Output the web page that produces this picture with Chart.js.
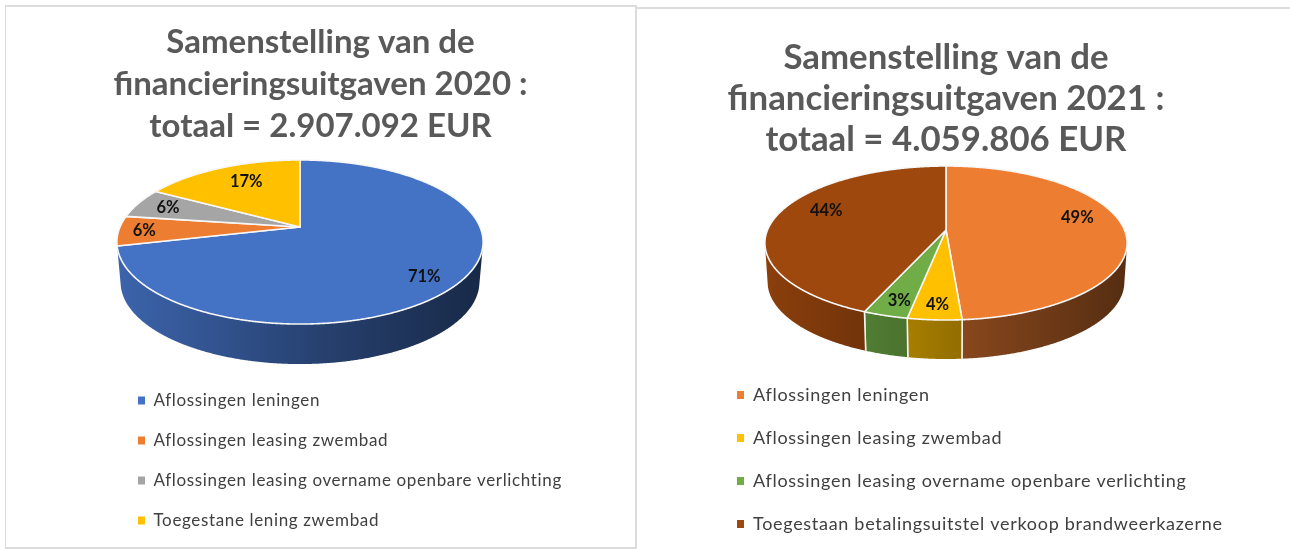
<!DOCTYPE html>
<html>
<head>
<meta charset="utf-8">
<title>Samenstelling van de financieringsuitgaven</title>
<script src="https://cdn.jsdelivr.net/npm/chart.js@4"></script>
<style>
  html, body { margin: 0; background: #fff; overflow: hidden; }
  body { width: 1290px; height: 550px; position: relative; }
  .frame { position: absolute; box-sizing: border-box; border: 0 solid #dcdcdc; }
  canvas { position: absolute; filter: blur(0.6px); }
</style>
</head>
<body>
<div class="frame" style="left:5px;top:5px;width:632px;height:544px;border-width:2px 2px 2px 1px"></div>
<div class="frame" style="left:636px;top:7px;width:654px;height:543px;border-width:2px 0 0 0"></div>
<canvas id="chart2020" style="left:5px;top:5px"></canvas>
<canvas id="chart2021" style="left:637px;top:8px"></canvas>
<script>
// values estimated from the slices, they round to the percentages in the picture
var labels2020 = ["Aflossingen leningen", "Aflossingen leasing zwembad", "Aflossingen leasing overname openbare verlichting", "Toegestane lening zwembad"];
var values2020 = [71.3, 5.9, 5.9, 16.9];
var colors2020 = ["#4472c4", "#ed7d31", "#a5a5a5", "#ffc000"];
var title2020 = ["Samenstelling van de", "financieringsuitgaven 2020 :", "totaal = 2.907.092 EUR"];

var labels2021 = ["Aflossingen leningen", "Aflossingen leasing zwembad", "Aflossingen leasing overname openbare verlichting", "Toegestaan betalingsuitstel verkoop brandweerkazerne"];
var values2021 = [48.8, 4.1, 3.4, 43.7];
var colors2021 = ["#ed7d31", "#ffc000", "#70ad47", "#9e480e"];
var title2021 = ["Samenstelling van de", "financieringsuitgaven 2021 :", "totaal = 4.059.806 EUR"];

function shade(hex, f) {
  var n = parseInt(hex.slice(1), 16);
  return "rgb(" + Math.round((n >> 16) * f) + "," + Math.round(((n >> 8) & 255) * f) + "," + Math.round((n & 255) * f) + ")";
}

// perspective view of the unit disc, the arcs keep the angles chart.js gave them
function project(o, a, r) {
  var u = r * Math.cos(a), v = r * Math.sin(a), w = 1 - o.persp * v;
  return [o.cx + o.ax * u / w, o.cy + o.ay * v / w];
}
function lower(o, p) {
  return [o.cx + (p[0] - o.cx) * o.shrink, p[1] + o.depth];
}

var tiltedPie = {
  id: "tiltedPie",
  afterLayout: function (chart, args, o) {
    // one legend column at a fixed place under the pie
    var lg = chart.legend;
    lg.left = o.legendX; lg.right = chart.width;
    lg.top = o.legendY; lg.bottom = chart.height + 100;
    if (!lg._spaced) {
      var draw = lg.draw;
      lg.draw = function () {
        chart.ctx.letterSpacing = o.legendSpacing;
        draw.call(lg);
        chart.ctx.letterSpacing = "0px";
      };
      lg._spaced = true;
    }
  },
  beforeDatasetDraw: function (chart, args, o) {
    var ctx = chart.ctx, arcs = chart.getDatasetMeta(0).data, colors = chart.data.datasets[0].backgroundColor;
    var steps = 3;
    var tangent = Math.asin(o.persp * 1.3);
    var front0 = tangent, front1 = Math.PI - tangent;
    var left = o.cx - o.ax * 1.02, right = o.cx + o.ax * 1.02;

    // side wall, front half only
    arcs.forEach(function (arc, i) {
      [0, 2 * Math.PI, -2 * Math.PI].forEach(function (turn) {
        var a0 = Math.max(arc.startAngle + turn, front0), a1 = Math.min(arc.endAngle + turn, front1);
        if (a1 <= a0) return;
        var g = ctx.createLinearGradient(left, 0, right, 0);
        g.addColorStop(0, shade(colors[i], 0.88));
        g.addColorStop(0.55, shade(colors[i], 0.57));
        g.addColorStop(1, shade(colors[i], 0.36));
        var top = [], a;
        for (a = a0; a < a1; a += Math.PI / 180 / steps) top.push(project(o, a, 1));
        top.push(project(o, a1, 1));
        ctx.beginPath();
        top.forEach(function (p, k) { k ? ctx.lineTo(p[0], p[1]) : ctx.moveTo(p[0], p[1]); });
        top.slice().reverse().forEach(function (p) { var q = lower(o, p); ctx.lineTo(q[0], q[1]); });
        ctx.closePath();
        ctx.fillStyle = g;
        ctx.fill();
        // white seams between slices on the wall
        ctx.strokeStyle = "#f4f4f4";
        ctx.lineWidth = 1.5;
        [top[0], top[top.length - 1]].forEach(function (p, k) {
          if ((k === 0 && a0 === front0) || (k === 1 && a1 === front1)) return;
          var q = lower(o, p);
          ctx.beginPath(); ctx.moveTo(p[0], p[1]); ctx.lineTo(q[0], q[1]); ctx.stroke();
        });
      });
    });

    // top face
    arcs.forEach(function (arc, i) {
      ctx.beginPath();
      var c = project(o, 0, 0);
      ctx.moveTo(c[0], c[1]);
      for (var a = arc.startAngle; a < arc.endAngle; a += Math.PI / 180 / steps) {
        var p = project(o, a, 1);
        ctx.lineTo(p[0], p[1]);
      }
      p = project(o, arc.endAngle, 1);
      ctx.lineTo(p[0], p[1]);
      ctx.closePath();
      ctx.fillStyle = colors[i];
      ctx.fill();
      ctx.strokeStyle = "#f7f7f7";
      ctx.lineWidth = 1.6;
      ctx.lineJoin = "round";
      ctx.stroke();
    });

    // percent labels
    var total = chart.data.datasets[0].data.reduce(function (s, x) { return s + x; }, 0);
    ctx.font = o.labelFont;
    ctx.fillStyle = "#111";
    ctx.textAlign = "center";
    ctx.textBaseline = "middle";
    arcs.forEach(function (arc, i) {
      var p = project(o, (arc.startAngle + arc.endAngle) / 2, o.labelRadius[i]);
      var txt = Math.round(chart.data.datasets[0].data[i] / total * 100) + "%";
      ctx.fillText(txt, p[0], p[1] + o.labelLift[i]);
    });
    return false;
  }
};

function makePie(id, w, h, labels, values, colors, title, titleTop, view) {
  var canvas = document.getElementById(id);
  canvas.width = w;
  canvas.height = h;
  return new Chart(canvas, {
    type: "pie",
    data: { labels: labels, datasets: [{ data: values, backgroundColor: colors, borderWidth: 0 }] },
    plugins: [tiltedPie],
    options: {
      responsive: false,
      animation: false,
      events: [],
      plugins: {
        title: {
          display: true,
          text: title,
          color: "#595959",
          font: { family: "Lato", size: view.titleSize, weight: "bold", lineHeight: view.titleLine },
          padding: { top: titleTop, bottom: 0 }
        },
        legend: {
          display: true,
          position: "left",
          align: "start",
          labels: {
            usePointStyle: true,
            pointStyle: "rect",
            pointStyleWidth: 7,
            boxHeight: 8,
            padding: view.legendGap,
            color: "#404040",
            font: { family: "Lato", size: view.legendSize }
          }
        },
        tooltip: { enabled: false },
        tiltedPie: view
      }
    }
  });
}

makePie("chart2020", 631, 544, labels2020, values2020, colors2020, title2020, 17, {
  cx: 295, cy: 222, ax: 180, ay: 79.3, persp: 0.183, depth: 40, shrink: 0.98,
  titleSize: 33, titleLine: 1.26, legendSize: 17, legendGap: 23, legendX: 110, legendY: 364, legendSpacing: "0.64px",
  labelFont: "bold 16.5px Lato",
  labelRadius: [0.8, 0.86, 0.81, 0.65], labelLift: [6, 0, 0, -5]
});
makePie("chart2021", 618, 542, labels2021, values2021, colors2021, title2021, 29, {
  cx: 309, cy: 222, ax: 178.5, ay: 74.8, persp: 0.169, depth: 39, shrink: 0.985,
  titleSize: 34.8, titleLine: 1.18, legendSize: 18, legendGap: 25, legendX: 75, legendY: 353, legendSpacing: "0.7px",
  labelFont: "bold 16.5px Lato",
  labelRadius: [0.74, 0.78, 0.8, 0.7], labelLift: [-10, 8, 5, -9]
});
</script>
</body>
</html>
